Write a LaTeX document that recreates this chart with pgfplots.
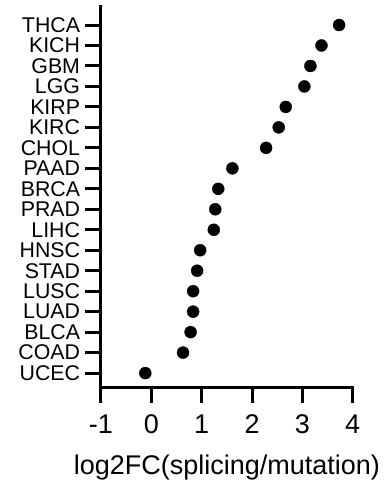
\documentclass[border=0pt]{standalone}
\usepackage{fontspec}
\setmainfont{Liberation Sans}
\usepackage{pgfplots}
\pgfplotsset{compat=1.18}
\begin{document}
\begin{tikzpicture}
\begin{axis}[
  scale only axis,
  width=251.7bp, height=380bp,
  xmin=-1, xmax=4,
  ymin=-0.68, ymax=17.88,
  axis lines=left,
  axis line style={-, line width=3bp, line cap=rect},
  tick align=outside,
  major tick length=16bp,
  every tick/.style={black, line width=3bp},
  xtick={-1,0,1,2,3,4},
  xticklabels={-1,0,1,2,3,4},
  ytick={0,...,17},
  yticklabels={UCEC,COAD,BLCA,LUAD,LUSC,STAD,HNSC,LIHC,PRAD,BRCA,PAAD,CHOL,KIRC,KIRP,LGG,GBM,KICH,THCA},
  xticklabel style={font=\fontsize{27bp}{30bp}\selectfont, yshift=-8bp},
  yticklabel style={font=\fontsize{21.3bp}{24bp}\selectfont, xshift=-1.5bp},
  xlabel={log2FC(splicing/mutation)},
  xlabel style={font=\fontsize{27bp}{30bp}\selectfont, yshift=-14bp},
  clip=false,
]
\addplot[only marks, mark=*, mark size=6bp, black] table {
x y
-0.12 0
0.63 1
0.78 2
0.83 3
0.83 4
0.91 5
0.97 6
1.24 7
1.27 8
1.33 9
1.61 10
2.28 11
2.53 12
2.67 13
3.04 14
3.16 15
3.38 16
3.73 17
};
\end{axis}
\pgfresetboundingbox
\path[use as bounding box] (-101bp,-110bp) rectangle (284bp,387bp);
\end{tikzpicture}
\end{document}
